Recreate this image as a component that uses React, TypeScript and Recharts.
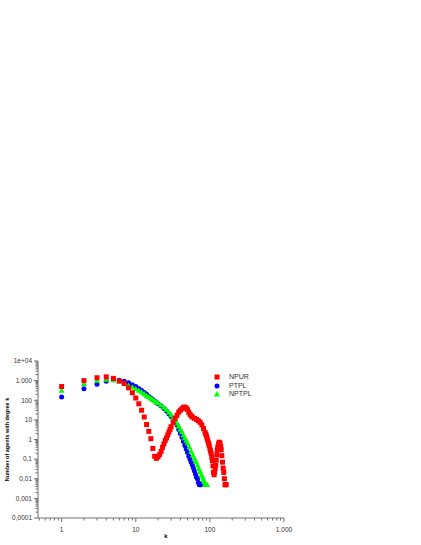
import React from "react";
import {
  Label,
  Legend,
  Scatter,
  ScatterChart,
  XAxis,
  YAxis,
} from "recharts";

// degree k and number of agents with that degree
const npurK = [
  1, 2, 3, 4, 5, 6, 7, 8, 9, 10, 11, 12, 13, 14, 15, 16, 17, 18, 19, 20, 21, 22,
  23, 24, 25, 26, 27, 28, 29, 30, 32, 34, 36, 38, 40, 42, 44, 46, 48, 50, 52, 54,
  56, 58, 62, 66, 70, 74, 78, 82, 86, 88, 90, 92, 94, 96, 98, 100, 102, 104, 106,
  108, 110, 112, 114, 116, 118, 120, 122, 124, 126, 128, 131, 134, 137, 140, 142,
  145, 148, 151, 154, 157, 160, 163, 166,
];
const npurV = [
  500, 1000, 1400, 1550, 1300, 950, 720, 430, 240, 130, 66, 31, 14, 5.8, 2.6, 1.1,
  0.35, 0.14, 0.11, 0.13, 0.17, 0.25, 0.4, 0.6, 0.9, 1.2, 1.7, 2.4, 3.3, 4.5, 7.5,
  12, 17, 25, 31, 37, 43, 45, 40, 33, 24, 19, 16, 14, 12, 10.5, 9, 7.5, 5.5, 3.6,
  2.3, 1.9, 1.5, 1.1, 0.85, 0.65, 0.5, 0.35, 0.27, 0.2, 0.13, 0.085, 0.045, 0.021,
  0.016, 0.022, 0.033, 0.05, 0.09, 0.17, 0.3, 0.42, 0.6, 0.73, 0.65, 0.45, 0.3,
  0.15, 0.07, 0.035, 0.021, 0.01, 0.005, 0.005, 0.005,
];

const ptplK = [
  1, 2, 3, 4, 5, 6, 7, 8, 9, 10, 11, 12, 13, 14, 15, 16, 17, 18, 19, 20, 22, 24,
  26, 28, 30, 32, 34, 36, 38, 40, 42, 44, 46, 48, 50, 52, 54, 56, 58, 60, 62, 64,
  66, 68, 70, 72, 74, 76,
];
const ptplV = [
  145, 390, 660, 920, 1110, 1060, 940, 780, 620, 505, 400, 316, 250, 200, 156, 132,
  110, 92, 77, 66, 51, 38, 28, 20, 15, 10.5, 7.8, 5.5, 3.2, 2.0, 1.3, 0.8, 0.5,
  0.33, 0.22, 0.14, 0.1, 0.07, 0.05, 0.035, 0.025, 0.017, 0.012, 0.01, 0.0065,
  0.005, 0.005, 0.005,
];

const nptplK = [
  1, 2, 3, 4, 5, 6, 7, 8, 9, 10, 11, 12, 13, 14, 15, 16, 17, 18, 19, 20, 22, 24,
  26, 28, 30, 32, 34, 36, 38, 40, 42, 44, 46, 48, 50, 53, 56, 59, 62, 65, 68, 71,
  74, 77, 80, 82, 84, 86, 88, 90, 92,
];
const nptplV = [
  320, 690, 1030, 1150, 1110, 940, 750, 570, 465, 385, 316, 260, 215, 175, 147, 127,
  110, 94, 82, 73, 56, 44, 33, 24, 18, 13, 9.5, 6.8, 4.8, 3.4, 2.5, 1.7, 1.2, 0.9,
  0.67, 0.42, 0.25, 0.16, 0.11, 0.075, 0.05, 0.033, 0.023, 0.016, 0.012, 0.009,
  0.007, 0.005, 0.005, 0.005, 0.005,
];

const xMajor = [1, 10, 100, 1000];
const xTickLabels = ["1", "10", "100", "1.000"];
const yMajor = [0.0001, 0.001, 0.01, 0.1, 1, 10, 100, 1000, 10000];
const yTickLabels = ["0,0001", "0,001", "0,01", "0,1", "1", "10", "100", "1.000", "1e+04"];

const toPoints = (ks: number[], vs: number[]) => ks.map((k, i) => ({ k, v: vs[i] }));
const npur = toPoints(npurK, npurV);
const ptpl = toPoints(ptplK, ptplV);
const nptpl = toPoints(nptplK, nptplV);

const logTicks = (from: number, to: number, lo: number, hi: number) => {
  const out: number[] = [];
  for (let e = from; e < to; e++) {
    for (let m = 1; m <= 9; m++) {
      const v = parseFloat((m * Math.pow(10, e)).toPrecision(6));
      if (v >= lo && v <= hi) out.push(v);
    }
  }
  out.push(Math.pow(10, to));
  return out;
};
const xTicks = logTicks(-1, 3, 0.5, 1000);
const yTicks = logTicks(-4, 4, 0.0001, 10000);

const FONT = "'Liberation Sans', Arial, sans-serif";
const AXIS = "#707070";
const TEXT = "#333";

const majorIndex = (v: number, majors: number[]) =>
  majors.findIndex((m) => Math.abs(v - m) / m < 1e-6);

const makeTick =
  (side: "bottom" | "top" | "left" | "right", majors: number[], labels: string[] | null) =>
  (props: any) => {
    const { x, y, payload } = props;
    const idx = majorIndex(payload.value, majors);
    const len = idx >= 0 ? 4 : 2.5;
    let line;
    if (side === "bottom") line = <line x1={x} x2={x} y1={y} y2={y + len} />;
    else if (side === "top") line = <line x1={x} x2={x} y1={y} y2={y - len} />;
    else if (side === "left") line = <line x1={x} x2={x - len} y1={y} y2={y} />;
    else line = <line x1={x} x2={x + len} y1={y} y2={y} />;
    let text = null;
    if (labels && idx >= 0) {
      if (side === "bottom")
        text = (
          <text x={x} y={y + 13.5} textAnchor="middle" fontSize={6.5} fill={TEXT} fontFamily={FONT} stroke="none">
            {labels[idx]}
          </text>
        );
      else
        text = (
          <text x={x - 6} y={y} dy="0.35em" textAnchor="end" fontSize={6.5} fill={TEXT} fontFamily={FONT} stroke="none">
            {labels[idx]}
          </text>
        );
    }
    return (
      <g stroke={AXIS} strokeWidth={1}>
        {line}
        {text}
      </g>
    );
  };

const RedSquare = (p: any) => (
  <rect x={p.cx - 2.5} y={p.cy - 2.5} width={5} height={5} fill="#ff0000" />
);
const BlueDot = (p: any) => <circle cx={p.cx} cy={p.cy} r={2.5} fill="#0000ff" />;
const GreenTri = (p: any) => (
  <polygon
    points={`${p.cx},${p.cy - 3} ${p.cx - 3},${p.cy + 2.4} ${p.cx + 3},${p.cy + 2.4}`}
    fill="#00ff00"
  />
);

const legendRows = [
  { name: "NPUR", mark: <rect x={2.5} y={1.5} width={5} height={5} fill="#ff0000" /> },
  { name: "PTPL", mark: <circle cx={5} cy={4} r={2.5} fill="#0000ff" /> },
  { name: "NPTPL", mark: <polygon points="5,1 2,6.4 8,6.4" fill="#00ff00" /> },
];

const LegendBox = () => (
  <div style={{ fontFamily: FONT, fontSize: 7, color: TEXT }}>
    {legendRows.map((r) => (
      <div key={r.name} style={{ display: "flex", alignItems: "center", height: 8.5 }}>
        <svg width={10} height={8} style={{ display: "block" }}>
          {r.mark}
        </svg>
        <span style={{ marginLeft: 7, lineHeight: "8px" }}>{r.name}</span>
      </div>
    ))}
  </div>
);

export default function App() {
  return (
    <div style={{ position: "absolute", left: 0, top: 0, width: 421, height: 545, background: "#fff" }}>
      <ScatterChart width={421} height={545} margin={{ top: 361, right: 137, bottom: 7, left: 8 }}>
        <XAxis
          xAxisId="b"
          dataKey="k"
          type="number"
          scale="log"
          domain={[0.48, 1000]}
          allowDataOverflow
          ticks={xTicks}
          interval={0}
          height={20}
          tickSize={0}
          tickMargin={0}
          tickLine={false}
          axisLine={{ stroke: AXIS }}
          tick={makeTick("bottom", xMajor, xTickLabels)}
        >
          <Label
            content={(p: any) => {
              const vb = p.viewBox;
              return (
                <text x={vb.x + vb.width / 2 + 5} y={538} textAnchor="middle" fontSize={6} fontWeight="bold" fontFamily={FONT} fill="#000">
                  k
                </text>
              );
            }}
          />
        </XAxis>
        <XAxis
          xAxisId="t"
          type="number"
          scale="log"
          orientation="top"
          domain={[0.48, 1000]}
          allowDataOverflow
          ticks={xTicks}
          interval={0}
          height={0}
          tickSize={0}
          tickMargin={0}
          tickLine={false}
          axisLine={{ stroke: AXIS }}
          tick={makeTick("top", xMajor, null)}
        />
        <YAxis
          yAxisId="l"
          dataKey="v"
          type="number"
          scale="log"
          domain={[0.0001, 10000]}
          allowDataOverflow
          ticks={yTicks}
          interval={0}
          width={30}
          tickSize={0}
          tickMargin={0}
          tickLine={false}
          axisLine={{ stroke: AXIS }}
          tick={makeTick("left", yMajor, yTickLabels)}
        >
          <Label
            content={(p: any) => {
              const vb = p.viewBox;
              const x = 7;
              const y = vb.y + vb.height / 2;
              return (
                <text x={x} y={y} dy="0.35em" textAnchor="middle" transform={`rotate(-90, ${x}, ${y})`} fontSize={5.5} fontWeight="bold" fontFamily={FONT} fill="#000">
                  Number of agents with degree k
                </text>
              );
            }}
          />
        </YAxis>
        <YAxis
          yAxisId="r"
          type="number"
          scale="log"
          orientation="right"
          domain={[0.0001, 10000]}
          allowDataOverflow
          ticks={yTicks}
          interval={0}
          width={0}
          tickSize={0}
          tickMargin={0}
          tickLine={false}
          axisLine={{ stroke: AXIS }}
          tick={makeTick("right", yMajor, null)}
        />
        <Legend
          layout="vertical"
          align="center"
          verticalAlign="middle"
          content={<LegendBox />}
          wrapperStyle={{ left: 212, top: 373, width: 60 }}
        />
        <Scatter name="PTPL" data={ptpl} xAxisId="b" yAxisId="l" shape={BlueDot} isAnimationActive={false} />
        <Scatter name="NPTPL" data={nptpl} xAxisId="b" yAxisId="l" shape={GreenTri} isAnimationActive={false} />
        <Scatter name="NPUR" data={npur} xAxisId="b" yAxisId="l" shape={RedSquare} isAnimationActive={false} />
      </ScatterChart>
    </div>
  );
}
